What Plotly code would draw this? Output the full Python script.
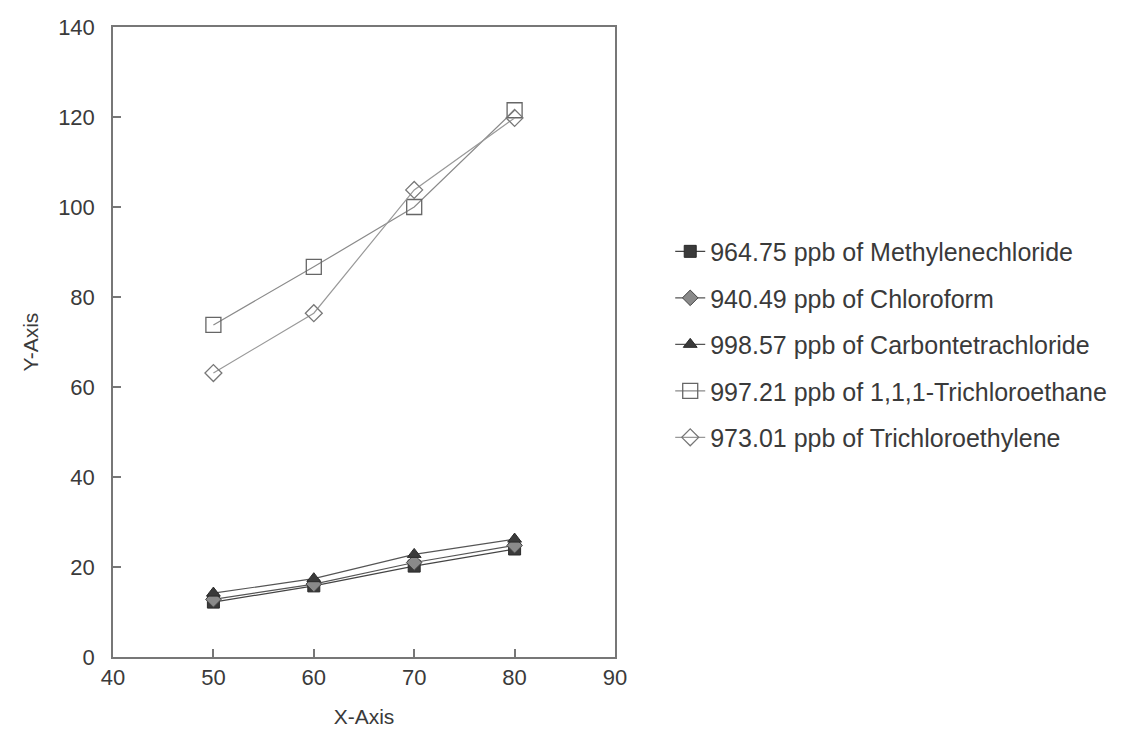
import plotly.graph_objects as go

x_vals = [50, 60, 70, 80]

names = [
    "964.75 ppb of Methylenechloride",
    "940.49 ppb of Chloroform",
    "998.57 ppb of Carbontetrachloride",
    "997.21 ppb of 1,1,1-Trichloroethane",
    "973.01 ppb of Trichloroethylene",
]
methylenechloride = [12.2, 15.8, 20.2, 24.0]
chloroform = [12.8, 16.2, 21.0, 24.8]
carbontetrachloride = [14.2, 17.4, 22.8, 26.2]
trichloroethane = [73.8, 86.7, 100.0, 121.5]
trichloroethylene = [63.1, 76.4, 103.8, 119.8]

series = [methylenechloride, chloroform, carbontetrachloride, trichloroethane, trichloroethylene]
styles = [
    dict(symbol="square", color="#3a3a3a", line=dict(color="#2a2a2a", width=1), size=12, lc="#444444"),
    dict(symbol="diamond", color="#8a8a8a", line=dict(color="#444444", width=1), size=12, lc="#555555"),
    dict(symbol="triangle-up", color="#3a3a3a", line=dict(color="#2a2a2a", width=1), size=12, lc="#555555"),
    dict(symbol="square", color="rgba(255,255,255,0)", line=dict(color="#666666", width=1.3), size=15, lc="#8a8a8a"),
    dict(symbol="diamond", color="rgba(255,255,255,0)", line=dict(color="#777777", width=1.3), size=13, lc="#999999"),
]

font_family = "Arial, Liberation Sans, sans-serif"
txt = "#3a3a3a"

fig = go.Figure()
for i, (name, ys, st) in enumerate(zip(names, series, styles)):
    fig.add_trace(go.Scatter(
        x=x_vals, y=ys, name=name, mode="lines+markers",
        legendgroup=f"g{i}",
        line=dict(color=st["lc"], width=1.2),
        marker=dict(symbol=st["symbol"], color=st["color"], size=st["size"], line=st["line"]),
    ))

axis_common = dict(
    showline=True, linecolor="#777777", linewidth=1.5, mirror=True,
    ticks="inside", ticklen=8, tickcolor="#777777", tickwidth=1.5,
    showgrid=False, zeroline=False, automargin=False,
    tickfont=dict(size=22, color=txt, family=font_family),
)

fig.update_layout(
    width=1134, height=729,
    margin=dict(l=113, r=519, t=27, b=72),
    paper_bgcolor="white", plot_bgcolor="white",
    font=dict(family=font_family, color=txt),
    xaxis=dict(range=[40, 90], tickvals=[40, 50, 60, 70, 80, 90],
               ticklabelstandoff=0,
               title=dict(text="X-Axis", font=dict(size=21, color=txt), standoff=20),
               **axis_common),
    yaxis=dict(range=[0, 140], tickvals=[0, 20, 40, 60, 80, 100, 120, 140],
               ticklabelstandoff=12,
               title=dict(text="Y-Axis", font=dict(size=21, color=txt), standoff=14),
               **axis_common),
    legend=dict(x=1.11, y=0.68, xanchor="left", yanchor="top",
                font=dict(size=25, color=txt, family=font_family),
                tracegroupgap=11, bgcolor="rgba(0,0,0,0)"),
)

fig.write_html("out.html")
